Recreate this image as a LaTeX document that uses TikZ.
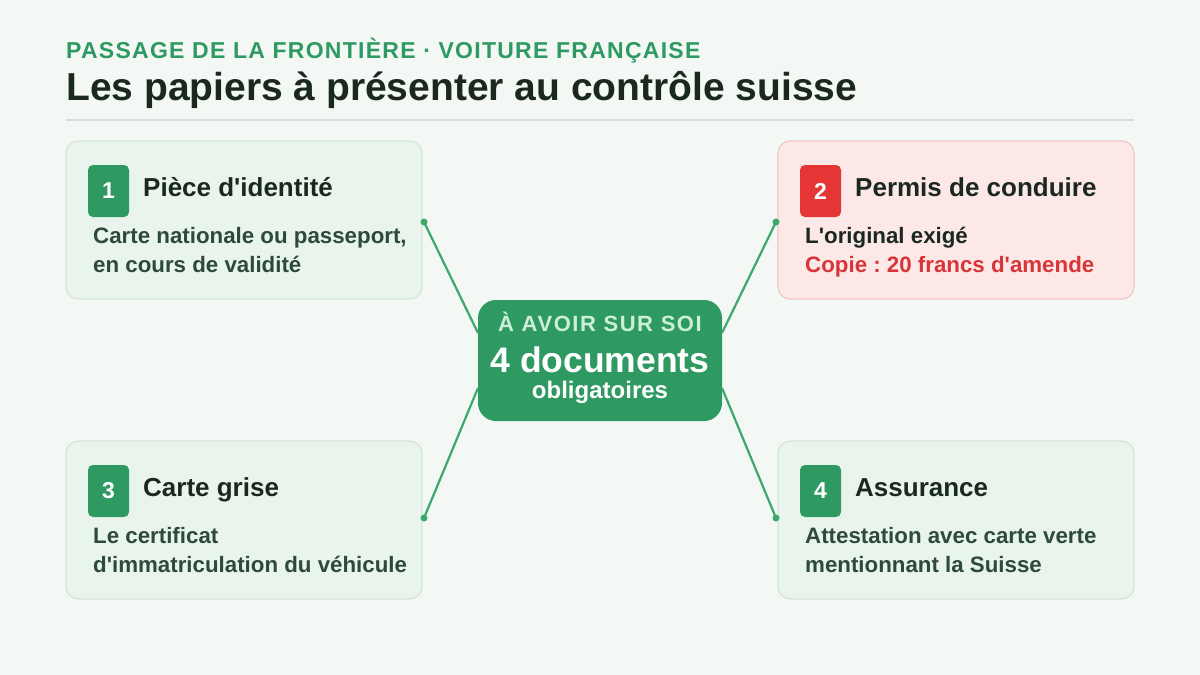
\documentclass[tikz,border=0pt]{standalone}
\usepackage{fontspec}
\setmainfont{Liberation Sans}[Ligatures=TeXOff]
\newfontfamily\spacedfont{Liberation Sans}[LetterSpace=5.5,Ligatures=TeXOff]
\newfontfamily\spacedfontb{Liberation Sans}[LetterSpace=7,Ligatures=TeXOff]
\frenchspacing
\definecolor{bg}{HTML}{F3F8F5}
\definecolor{accent}{HTML}{2E9A62}
\definecolor{linegreen}{HTML}{3DA86C}
\definecolor{cardfill}{HTML}{E9F4EC}
\definecolor{cardline}{HTML}{D2E5D8}
\definecolor{redfill}{HTML}{FDE8E8}
\definecolor{redline}{HTML}{F3C5C6}
\definecolor{redbadge}{HTML}{E53535}
\definecolor{redtext}{HTML}{D93438}
\definecolor{darktext}{HTML}{1A2820}
\definecolor{desctext}{HTML}{2E4A3B}
\definecolor{rulecol}{HTML}{D5DED8}
\definecolor{paletext}{HTML}{CDEFD9}
\tikzset{
  card/.style={draw=cardline, fill=cardfill, line width=1.2pt, rounded corners=12pt},
  redcard/.style={draw=redline, fill=redfill, line width=1.2pt, rounded corners=12pt},
  badge/.style={fill=accent, rounded corners=5pt, minimum width=41pt, minimum height=52pt, inner sep=0pt, text=white, font=\bfseries\fontsize{23}{27}\selectfont},
  redbadgestyle/.style={badge, fill=redbadge},
  heading/.style={anchor=base west, inner sep=0pt, text=darktext, font=\bfseries\fontsize{26}{30}\selectfont},
  desc/.style={anchor=base west, inner sep=0pt, text=desctext, font=\bfseries\fontsize{22.3}{26}\selectfont},
  link/.style={draw=linegreen, line width=2.2pt},
  dot/.style={circle, fill=linegreen, inner sep=0pt, minimum size=7pt},
}
\begin{document}
\begin{tikzpicture}[x=1pt,y=-1pt]
\useasboundingbox[fill=bg] (0,0) rectangle (1200,675);
% header
\node[anchor=base west, inner sep=0pt, text=accent, font=\spacedfont\bfseries\fontsize{23}{27}\selectfont] (sub) at (66,58) {PASSAGE DE LA FRONTIÈRE · VOITURE FRANÇAISE};
\node[anchor=base west, inner sep=0pt, text=darktext, font=\bfseries\fontsize{39}{44}\selectfont] (title) at (66,100) {Les papiers à présenter au contrôle suisse};
\coordinate (ruleL) at (66,120);
\coordinate (ruleR) at (1134,120);
\draw[rulecol, line width=1.5pt] (ruleL) -- (ruleR);
% cards
\node[card, minimum width=356pt, minimum height=158pt, inner sep=0pt] (c1) at (244,220) {};
\node[redcard, minimum width=356pt, minimum height=158pt, inner sep=0pt] (c2) at (956,220) {};
\node[card, minimum width=356pt, minimum height=158pt, inner sep=0pt] (c3) at (244,520) {};
\node[card, minimum width=356pt, minimum height=158pt, inner sep=0pt] (c4) at (956,520) {};
% center
\node[fill=accent, rounded corners=18pt, minimum width=244pt, minimum height=121pt, inner sep=0pt] (hub) at (600,360.5) {};
\node[anchor=base, inner sep=0pt, text=paletext, font=\spacedfontb\bfseries\fontsize{22}{26}\selectfont] (hubA) at (600,331) {À AVOIR SUR SOI};
\node[anchor=base, inner sep=0pt, text=white, font=\bfseries\fontsize{35.5}{40}\selectfont] (hubB) at (600,372) {4 documents};
\node[anchor=base, inner sep=0pt, text=white, font=\bfseries\fontsize{24}{28}\selectfont] (hubC) at (600,398.5) {obligatoires};
% connectors
\coordinate (h1) at (478,333);
\coordinate (h2) at (722,333);
\coordinate (h3) at (478,388);
\coordinate (h4) at (722,388);
\node[dot] (d1) at (424,222) {};
\node[dot] (d2) at (776,222) {};
\node[dot] (d3) at (424,518) {};
\node[dot] (d4) at (776,518) {};
\draw[link] (d1.center) -- (h1);
\draw[link] (d2.center) -- (h2);
\draw[link] (d3.center) -- (h3);
\draw[link] (d4.center) -- (h4);
% card 1
\node[badge] (b1) at (108.5,191) {1};
\node[heading] (t1) at (143,196) {Pièce d'identité};
\node[desc] (p1a) at (93,243) {Carte nationale ou passeport,};
\node[desc] (p1b) at (93,272) {en cours de validité};
% card 2
\node[redbadgestyle] (b2) at (820.5,191) {2};
\node[heading] (t2) at (855,196) {Permis de conduire};
\node[desc, text=darktext] (p2a) at (805,243) {L'original exigé};
\node[desc, text=redtext] (p2b) at (805,272) {Copie : 20 francs d'amende};
% card 3
\node[badge] (b3) at (108.5,491) {3};
\node[heading] (t3) at (143,496) {Carte grise};
\node[desc] (p3a) at (93,543) {Le certificat};
\node[desc] (p3b) at (93,572) {d'immatriculation du véhicule};
% card 4
\node[badge] (b4) at (820.5,491) {4};
\node[heading] (t4) at (855,496) {Assurance};
\node[desc] (p4a) at (805,543) {Attestation avec carte verte};
\node[desc] (p4b) at (805,572) {mentionnant la Suisse};
\end{tikzpicture}
\end{document}
